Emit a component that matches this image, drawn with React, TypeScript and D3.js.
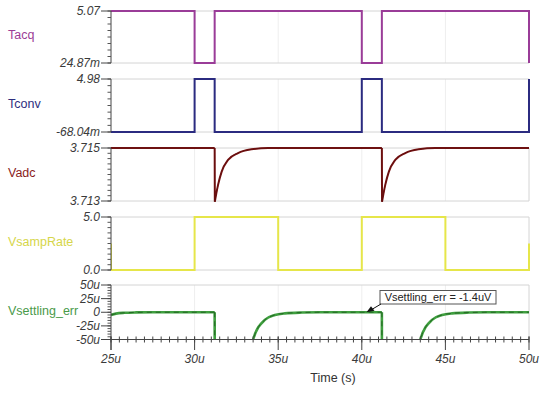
import React from "react";
import * as d3 from "d3";

// ---- data (time in µs) ----
const xTickLabels = ["25u", "30u", "35u", "40u", "45u", "50u"];
const xTickValues = [25, 30, 35, 40, 45, 50];

const tacqT = [25, 30, 30, 31.2, 31.2, 40, 40, 41.2, 41.2, 50, 50];
const tacqV = [5.06, 5.06, 0.03, 0.03, 5.06, 5.06, 0.03, 0.03, 5.06, 5.06, 0.03];

const tconvT = [25, 30, 30, 31.2, 31.2, 40, 40, 41.2, 41.2, 50, 50];
const tconvV = [-0.065, -0.065, 4.97, 4.97, -0.065, -0.065, 4.97, 4.97, -0.065, -0.065, 4.97];

const vadcT = [25, 31.2, 31.21, 31.3, 31.4, 31.62, 32.0, 32.6, 33.4, 34.4, 41.2, 41.21, 41.3, 41.4, 41.62, 42.0, 42.6, 43.4, 44.4, 50];
const vadcV = [3.715, 3.715, 3.71297, 3.71329, 3.7136, 3.71411, 3.71455, 3.71481, 3.71495, 3.715, 3.715, 3.71297, 3.71329, 3.7136, 3.71411, 3.71455, 3.71481, 3.71495, 3.715, 3.715];

const sampT = [25, 25, 30, 30, 35, 35, 40, 40, 45, 45, 50, 50];
const sampV = [2.5, 0, 0, 5, 5, 0, 0, 5, 5, 0, 0, 2.5];

const settleT = [25, 25.3, 25.8, 26.5, 27.5, 31.2, 31.21, 33.2, 33.5, 34.2, 34.8, 35.4, 36.4, 37.5, 41.2, 41.21, 43.2, 43.5, 44.2, 44.8, 45.4, 46.4, 47.5, 50];
const settleV = [-5, -2.5, -1, -0.3, 0, 0, -300, -90, -50, -14, -5, -2, -0.5, 0, 0, -300, -90, -50, -14, -5, -2, -0.5, 0, 0];

const panelNames = ["Tacq", "Tconv", "Vadc", "VsampRate", "Vsettling_err"];
const panelLabelColors = ["#9b3d96", "#2e2e7e", "#8a1c1c", "#d6d64a", "#4a9a4a"];
const panelLineColors = ["#9a3c98", "#2b2b80", "#7a1414", "#e6e64a", "#3f9f3f"];
const panelDomains: [number, number][] = [
  [0.02487, 5.07],
  [-0.06804, 4.98],
  [3.713, 3.715],
  [0, 5],
  [-50, 50],
];
const panelTickValues = [
  [5.07, 0.02487],
  [4.98, -0.06804],
  [3.715, 3.713],
  [5, 0],
  [50, 25, 0, -25, -50],
];
const panelTickLabels = [
  ["5.07", "24.87m"],
  ["4.98", "-68.04m"],
  ["3.715", "3.713"],
  ["5.0", "0.0"],
  ["50u", "25u", "0", "-25u", "-50u"],
];
const annotationText = "Vsettling_err = -1.4uV";
const annotationT = 40.28;
const annotationV = 0;

// ---- layout ----
const W = 554;
const H = 393;
const X0 = 111;
const X1 = 529;
const panelTops = [11, 79, 148, 217, 285];
const panelBottoms = [63, 132, 201, 270, 339.5];
const minorDivs = [8, 8, 10, 10, 20];

const FONT = "Arial, 'Liberation Sans', sans-serif";

// split a series into smooth runs and vertical jumps
function buildPath(
  t: number[],
  v: number[],
  x: d3.ScaleLinear<number, number>,
  y: d3.ScaleLinear<number, number>,
  smooth: boolean
): string {
  const pts = t.map((tt, k) => [x(tt), y(v[k])] as [number, number]);
  if (!smooth) return d3.line().curve(d3.curveLinear)(pts) || "";
  const parts: string[] = [];
  let run: [number, number][] = [pts[0]];
  for (let k = 1; k < pts.length; k++) {
    const jump = t[k] - t[k - 1] < 0.05;
    if (jump) {
      if (run.length > 1) parts.push(d3.line().curve(d3.curveMonotoneX)(run) || "");
      parts.push(d3.line()([pts[k - 1], pts[k]]) || "");
      run = [pts[k]];
    } else {
      run.push(pts[k]);
    }
  }
  if (run.length > 1) parts.push(d3.line().curve(d3.curveMonotoneX)(run) || "");
  return parts.join(" ");
}

export default function App() {
  const x = d3.scaleLinear().domain([25, 50]).range([X0, X1]);
  const ys = panelDomains.map((dom, i) =>
    d3.scaleLinear().domain(dom).range([panelBottoms[i], panelTops[i]])
  );
  const series = [
    { t: tacqT, v: tacqV, smooth: false },
    { t: tconvT, v: tconvV, smooth: false },
    { t: vadcT, v: vadcV, smooth: true },
    { t: sampT, v: sampV, smooth: false },
    { t: settleT, v: settleV, smooth: true },
  ];

  const minorXTicks = d3.range(25, 50.001, 0.5);

  const ax = x(annotationT);
  const ay = ys[4](annotationV);
  const boxX = 380;
  const boxY = 290.5;
  const boxW = 116;
  const boxH = 13.5;

  return (
    <svg
      width={W}
      height={H}
      style={{ position: "absolute", left: 0, top: 0, background: "#fff" }}
      fontFamily={FONT}
    >
      <defs>
        {panelTops.map((t, i) => (
          <clipPath id={`clip${i}`} key={i}>
            <rect x={X0} y={t - 2} width={X1 - X0 + 2} height={panelBottoms[i] - t + 4} />
          </clipPath>
        ))}
        <clipPath id="clip4b">
          <rect x={X0} y={panelTops[4]} width={X1 - X0 + 2} height={panelBottoms[4] - panelTops[4]} />
        </clipPath>
      </defs>
      <rect x={0} y={0} width={W} height={H} fill="#fff" />

      {panelTops.map((top, i) => {
        const bottom = panelBottoms[i];
        const y = ys[i];
        const d = buildPath(series[i].t, series[i].v, x, y, series[i].smooth);
        const minor = d3.range(0, minorDivs[i] + 1).map(
          (k) => top + ((bottom - top) * k) / minorDivs[i]
        );
        return (
          <g key={i}>
            {xTickValues.slice(1, -1).map((tv) => (
              <line key={tv} x1={x(tv)} x2={x(tv)} y1={top} y2={bottom} stroke="#eeeeee" strokeWidth={1} />
            ))}
            <line x1={X0} x2={X1} y1={top} y2={top} stroke="#d4d4d4" strokeWidth={1} />
            <line x1={X0} x2={X1} y1={bottom} y2={bottom} stroke="#d4d4d4" strokeWidth={1} />
            <line x1={X1} x2={X1} y1={top} y2={bottom} stroke="#d4d4d4" strokeWidth={1} />
            <g clipPath={`url(#${i === 4 ? "clip4b" : "clip" + i})`}>
              <path d={d} fill="none" stroke={panelLineColors[i]} strokeWidth={i === 4 ? 2.6 : 2} strokeLinejoin="miter" />
              {i === 4 && (
                <path d={d} fill="none" stroke="#1f5a1f" strokeWidth={1} strokeDasharray="5,4" opacity={0.8} />
              )}
              {i === 2 && <path d={d} fill="none" stroke="#4a0808" strokeWidth={0.8} opacity={0.6} />}
            </g>
            <line x1={X0} x2={X0} y1={top} y2={i === 4 ? 350 : bottom} stroke="#444" strokeWidth={1} />
            {minor.map((my, k) => (
              <line key={k} x1={X0 - 3.5} x2={X0} y1={my} y2={my} stroke="#555" strokeWidth={1} />
            ))}
            {panelTickValues[i].map((tv, k) => (
              <g key={k}>
                <line x1={X0 - 10} x2={X0} y1={y(tv)} y2={y(tv)} stroke="#444" strokeWidth={1} />
                <text
                  x={X0 - 11}
                  y={y(tv)}
                  dy="0.35em"
                  textAnchor="end"
                  fontSize={12}
                  fontStyle="italic"
                  fill="#3a3a3a"
                >
                  {panelTickLabels[i][k]}
                </text>
              </g>
            ))}
            <text x={8} y={(top + bottom) / 2 - 2} dy="0.35em" fontSize={12.5} fill={panelLabelColors[i]}>
              {panelNames[i]}
            </text>
          </g>
        );
      })}

      <line x1={X0} x2={X1} y1={panelBottoms[4]} y2={panelBottoms[4]} stroke="#444" strokeWidth={1} />
      {minorXTicks.map((tv) => (
        <line
          key={tv}
          x1={x(tv)}
          x2={x(tv)}
          y1={panelBottoms[4] - 3}
          y2={panelBottoms[4] + 3}
          stroke="#444"
          strokeWidth={1}
        />
      ))}
      {xTickValues.map((tv, k) => (
        <g key={tv}>
          <line x1={x(tv)} x2={x(tv)} y1={panelBottoms[4] - 3} y2={350} stroke="#444" strokeWidth={1} />
          <text x={x(tv)} y={363} textAnchor="middle" fontSize={12} fontStyle="italic" fill="#3a3a3a">
            {xTickLabels[k]}
          </text>
        </g>
      ))}
      <text x={333} y={382} textAnchor="middle" fontSize={12.5} fill="#333">
        Time (s)
      </text>

      <rect x={boxX} y={boxY} width={boxW} height={boxH} fill="#fff" stroke="#555" strokeWidth={1} />
      <text x={boxX + boxW / 2} y={boxY + boxH / 2} dy="0.35em" textAnchor="middle" fontSize={11} fill="#222">
        {annotationText}
      </text>
      <line x1={boxX + 1} x2={ax + 4} y1={boxY + boxH} y2={ay - 2} stroke="#111" strokeWidth={1} />
      <path
        d={`M${ax},${ay} L${ax + 8},${ay - 1.5} L${ax + 4.5},${ay - 6} Z`}
        fill="#111"
      />
    </svg>
  );
}
